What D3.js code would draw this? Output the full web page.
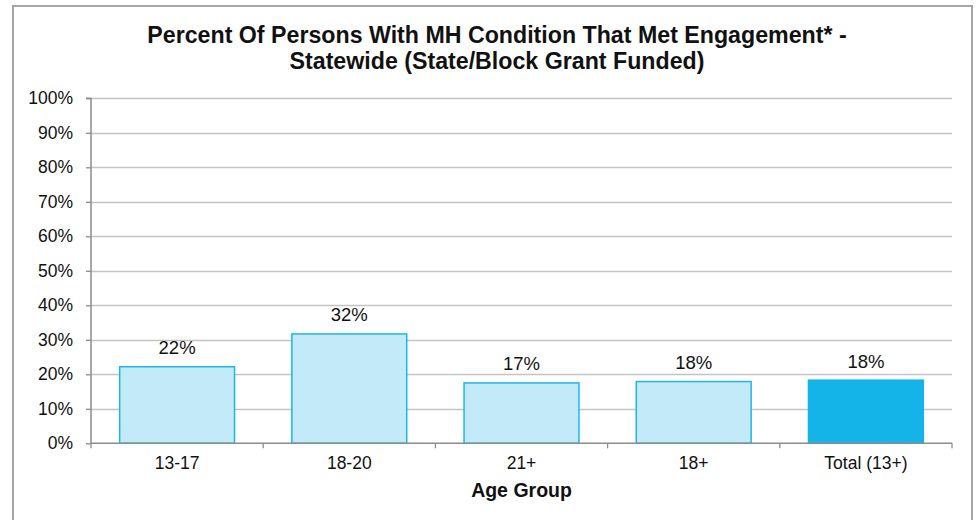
<!DOCTYPE html>
<html><head><meta charset="utf-8">
<script src="https://cdn.jsdelivr.net/npm/d3@7"></script>
<style>body{margin:0;background:#fff;}svg{display:block;font-family:"Liberation Sans",Arial,sans-serif;}</style>
</head><body>
<svg id="c" width="977" height="520"></svg>
<script>
const categories = ["13-17","18-20","21+","18+","Total (13+)"];
const values = [0.222, 0.317, 0.175, 0.179, 0.183];
const valueLabels = ["22%","32%","17%","18%","18%"];
const yTicks = [0,0.1,0.2,0.3,0.4,0.5,0.6,0.7,0.8,0.9,1.0];
const titleLines = ["Percent Of Persons With MH Condition That Met Engagement* -","Statewide (State/Block Grant Funded)"];
const xTitle = "Age Group";

const svg = d3.select("#c");
svg.append("rect").attr("x",13).attr("y",6).attr("width",959).attr("height",530)
  .attr("fill","#fff").attr("stroke","#a6a6a6").attr("stroke-width",2);

const m = {left:91, right:952, top:98.3, bottom:443.3};
const x = d3.scaleBand().domain(categories).range([m.left,m.right]).paddingInner(0.333).paddingOuter(0.1665);
const y = d3.scaleLinear().domain([0,1]).range([m.bottom,m.top]);

// grid
svg.append("g").selectAll("line").data(yTicks.slice(1)).join("line")
  .attr("x1",m.left).attr("x2",m.right).attr("y1",d=>Math.round(y(d))+0.5).attr("y2",d=>Math.round(y(d))+0.5)
  .attr("stroke","#c4c4c4").attr("stroke-width",1.3);

// bars
svg.append("g").selectAll("rect").data(categories).join("rect")
  .attr("x",d=>x(d)).attr("width",x.bandwidth())
  .attr("y",(d,i)=>y(values[i])).attr("height",(d,i)=>y(0)-y(values[i]))
  .attr("fill",(d,i)=>i===4?"#14b4e8":"#c2eaf8")
  .attr("stroke",(d,i)=>i===4?"#14b4e8":"#1cb6ea").attr("stroke-width",1.5);

// value labels
svg.append("g").selectAll("text").data(categories).join("text")
  .attr("x",d=>x(d)+x.bandwidth()/2).attr("y",(d,i)=>y(values[i])-12.5)
  .attr("text-anchor","middle").attr("font-size",18.5).attr("fill","#111")
  .text((d,i)=>valueLabels[i]);

// y axis
const yAxis = d3.axisLeft(y).tickValues(yTicks).tickFormat(d3.format(".0%")).tickSize(5).tickPadding(13);
const gy = svg.append("g").attr("transform",`translate(${m.left},0)`).call(yAxis);
gy.select(".domain").attr("stroke","#8c8c8c").attr("stroke-width",1.5).attr("d",`M-5,${m.top}H0V${m.bottom}`);
gy.selectAll(".tick line").attr("stroke","#8c8c8c").attr("stroke-width",1.3);
gy.selectAll(".tick text").attr("font-size",17.5).attr("fill","#111").attr("font-family","Liberation Sans, Arial, sans-serif");

// x axis
const gx = svg.append("g").attr("transform",`translate(0,${m.bottom})`);
gx.append("line").attr("x1",m.left).attr("x2",m.right).attr("stroke","#8c8c8c").attr("stroke-width",1.5);
const bounds = d3.range(categories.length+1).map(i=>m.left+i*(m.right-m.left)/categories.length);
gx.selectAll(".tk").data(bounds).join("line").attr("class","tk")
  .attr("x1",d=>d).attr("x2",d=>d).attr("y1",0).attr("y2",5).attr("stroke","#8c8c8c").attr("stroke-width",1.3);
gx.selectAll(".lb").data(categories).join("text").attr("class","lb")
  .attr("x",d=>x(d)+x.bandwidth()/2).attr("y",26).attr("text-anchor","middle")
  .attr("font-size",17.5).attr("fill","#111").text(d=>d);

svg.append("text").attr("x",(m.left+m.right)/2).attr("y",497).attr("text-anchor","middle")
  .attr("font-size",19.5).attr("font-weight","bold").attr("fill","#111").text(xTitle);

svg.append("g").selectAll("text").data(titleLines).join("text")
  .attr("x",497).attr("y",(d,i)=>43.3+i*26).attr("text-anchor","middle")
  .attr("font-size",23.2).attr("font-weight","bold").attr("fill","#111").text(d=>d);
</script>
</body></html>
